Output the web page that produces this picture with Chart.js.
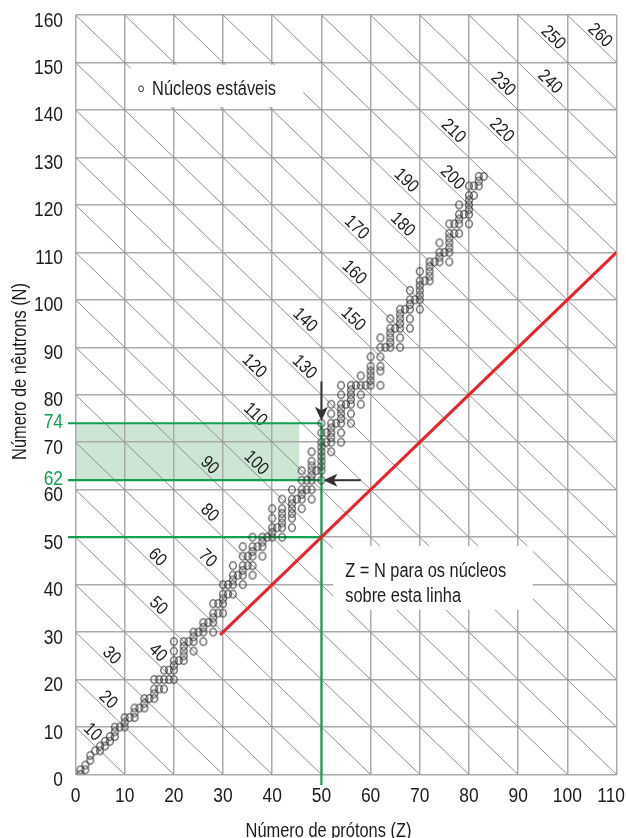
<!DOCTYPE html>
<html>
<head>
<meta charset="utf-8">
<script src="https://cdn.jsdelivr.net/npm/chart.js@4/dist/chart.umd.min.js"></script>
<style>
  html, body { margin: 0; padding: 0; background: #ffffff; }
  canvas { display: block; }
</style>
</head>
<body>
<canvas id="chart" width="626" height="838"></canvas>
<script>
// Axis ticks
const xTicks = [0, 10, 20, 30, 40, 50, 60, 70, 80, 90, 100, 110];
const yTicks = [0, 10, 20, 30, 40, 50, 60, 62, 70, 74, 80, 90, 100, 110, 120, 130, 140, 150, 160];
const highlightedN = [62, 74];

// Stable nuclei: neutron numbers N for each proton number Z (index = Z)
const stableNeutrons = [
  [],
  [0, 1],
  [1, 2],
  [3, 4],
  [5],
  [5, 6],
  [6, 7],
  [7, 8],
  [8, 9, 10],
  [10],
  [10, 11, 12],
  [12],
  [12, 13, 14],
  [14],
  [14, 15, 16],
  [16],
  [16, 17, 18, 20],
  [18, 20],
  [18, 20, 22],
  [20, 22],
  [20, 22, 23, 24, 26, 28],
  [24],
  [24, 25, 26, 27, 28],
  [28],
  [26, 28, 29, 30],
  [30],
  [28, 30, 31, 32],
  [32],
  [30, 32, 33, 34, 36],
  [34, 36],
  [34, 36, 37, 38, 40],
  [38, 40],
  [38, 40, 41, 42, 44],
  [42],
  [40, 42, 43, 44, 46, 48],
  [44, 46],
  [42, 44, 46, 47, 48, 50],
  [48],
  [46, 48, 49, 50],
  [50],
  [50, 51, 52, 54, 56],
  [52],
  [50, 52, 53, 54, 55, 56, 58],
  [],
  [52, 54, 55, 56, 57, 58, 60],
  [58],
  [56, 58, 59, 60, 62, 64],
  [60, 62],
  [58, 60, 62, 63, 64, 65, 66, 68],
  [64],
  [62, 64, 65, 66, 67, 68, 69, 70, 72, 74],
  [70, 72],
  [68, 70, 71, 72, 73, 74, 76, 78],
  [74],
  [70, 72, 74, 75, 76, 77, 78, 80, 82],
  [78],
  [74, 76, 78, 79, 80, 81, 82],
  [82],
  [78, 80, 82, 84],
  [82],
  [82, 83, 84, 85, 86, 88],
  [],
  [82, 85, 86, 88, 90, 92],
  [90],
  [90, 91, 92, 93, 94, 96],
  [94],
  [90, 92, 94, 95, 96, 97, 98],
  [98],
  [94, 96, 98, 99, 100, 102],
  [100],
  [98, 100, 101, 102, 103, 104, 106],
  [104],
  [104, 105, 106, 107, 108],
  [108],
  [108, 109, 110, 112],
  [110],
  [108, 110, 111, 112, 113, 114, 116],
  [114, 116],
  [114, 116, 117, 118, 120],
  [118],
  [116, 118, 119, 120, 121, 122, 124],
  [122, 124],
  [124, 125, 126],
  [126]
];

// Lines of constant mass number A = Z + N
const massLines = [10, 20, 30, 40, 50, 60, 70, 80, 90, 100, 110, 120, 130, 140, 150, 160, 170, 180, 190, 200, 210, 220, 230, 240, 250, 260];
const massLabels = [10, 20, 30, 40, 50, 60, 70, 80, 90, 100, 110, 120, 130, 140, 150, 160, 170, 180, 190, 200, 210, 220, 230, 240, 250, 260];
// Z where each mass label sits on its line
const massLabelZ = [2.3, 5.5, 6.2, 15.6, 15.7, 15.5, 25.7, 26.1, 26.1, 35.6, 35.4, 35.2, 45.4, 45.5, 55.3, 55.5, 56.0, 65.4, 66.1, 75.5, 75.7, 85.5, 85.8, 95.3, 96.0, 105.5];

// Z = N reference line
const zEqualsNStart = 29.4;
const zEqualsNEnd = 110;

// Tin (Z = 50): range of stable neutron numbers, and magic number N = 50
const tinZ = 50;
const tinNRange = [62, 74];
const magicN = 50;
const shadeZEnd = 45.5;

const FONT = '"Liberation Sans", Arial, sans-serif';
const NARROW_TEXT = 0.82;      // horizontal squeeze for words
const NARROW_DIGITS = 0.87;    // horizontal squeeze for numbers
const INK = '#1c1c1c';
const GRID = '#aaaaaa';
const DIAG = '#8e8e8e';
const GREEN = '#11a04e';
const SHADE = '#cde6d4';
const RED = '#e8232a';
const ARROW = '#333333';

const nuclei = [];
stableNeutrons.forEach((list, z) => list.forEach(n => nuclei.push({ x: z, y: n })));

// Open oval marker used for each nucleus
const nucleusMarker = document.createElement('canvas');
nucleusMarker.width = 10;
nucleusMarker.height = 11;
(function () {
  const m = nucleusMarker.getContext('2d');
  m.strokeStyle = '#333333';
  m.lineWidth = 1.1;
  m.beginPath();
  m.ellipse(5, 5.5, 3.3, 3.8, 0, 0, Math.PI * 2);
  m.stroke();
})();

function toPx(chart, z, n) {
  return [chart.scales.x.getPixelForValue(z), chart.scales.y.getPixelForValue(n)];
}

// condensed text: translate, optional rotation, then horizontal squeeze
function text(ctx, str, x, y, align, squeeze, rot, dy) {
  ctx.save();
  ctx.translate(x, y);
  if (rot) ctx.rotate(rot);
  ctx.scale(squeeze, 1);
  ctx.textAlign = align;
  ctx.fillText(str, 0, dy || 0);
  ctx.restore();
}

function drawArrow(ctx, from, to) {
  const [x0, y0] = from, [x1, y1] = to;
  const ang = Math.atan2(y1 - y0, x1 - x0);
  const headLen = 14, halfW = 6.5, notch = 3.5;
  const bx = x1 - Math.cos(ang) * (headLen - notch);
  const by = y1 - Math.sin(ang) * (headLen - notch);
  ctx.save();
  ctx.strokeStyle = ARROW;
  ctx.fillStyle = ARROW;
  ctx.lineWidth = 2;
  ctx.beginPath();
  ctx.moveTo(x0, y0);
  ctx.lineTo(bx, by);
  ctx.stroke();
  ctx.translate(x1, y1);
  ctx.rotate(ang);
  ctx.beginPath();
  ctx.moveTo(0, 0);
  ctx.lineTo(-headLen, -halfW);
  ctx.lineTo(-headLen + notch, 0);
  ctx.lineTo(-headLen, halfW);
  ctx.closePath();
  ctx.fill();
  ctx.restore();
}

const decorations = {
  id: 'decorations',
  beforeDraw(chart) {
    // shaded band of tin's stable neutron numbers
    const ctx = chart.ctx;
    const [xa, ya] = toPx(chart, 0, tinNRange[1]);
    const [xb, yb] = toPx(chart, shadeZEnd, tinNRange[0]);
    ctx.save();
    ctx.fillStyle = SHADE;
    ctx.fillRect(xa, ya, xb - xa, yb - ya);
    ctx.restore();
  },
  beforeDatasetsDraw(chart) {
    const ctx = chart.ctx;
    const xs = chart.scales.x, ys = chart.scales.y;
    const area = chart.chartArea;

    // iso-mass diagonals
    ctx.save();
    ctx.beginPath();
    ctx.rect(area.left, area.top, area.right - area.left, area.bottom - area.top);
    ctx.clip();
    ctx.strokeStyle = DIAG;
    ctx.lineWidth = 1;
    massLines.forEach(a => {
      const zs = Math.max(xs.min, a - ys.max);
      const ze = Math.min(xs.max, a - ys.min);
      if (ze <= zs) return;
      ctx.beginPath();
      ctx.moveTo(xs.getPixelForValue(zs), ys.getPixelForValue(a - zs));
      ctx.lineTo(xs.getPixelForValue(ze), ys.getPixelForValue(a - ze));
      ctx.stroke();
    });
    ctx.restore();

    // mass number labels along the diagonals
    const ang = Math.atan2(ys.getPixelForValue(-1) - ys.getPixelForValue(0),
                           xs.getPixelForValue(1) - xs.getPixelForValue(0));
    ctx.save();
    ctx.font = '18px ' + FONT;
    ctx.fillStyle = INK;
    ctx.textBaseline = 'alphabetic';
    massLabels.forEach((a, i) => {
      const z = massLabelZ[i];
      const [x, y] = toPx(chart, z, a - z);
      text(ctx, String(a), x, y, 'center', NARROW_DIGITS, ang, -3);
    });
    ctx.restore();

    // white panels behind the legend and the annotation
    ctx.save();
    ctx.fillStyle = '#ffffff';
    const [lx0, ly0] = toPx(chart, 11.2, 149.5);
    const [lx1, ly1] = toPx(chart, 46.3, 140.6);
    ctx.fillRect(lx0, ly0, lx1 - lx0, ly1 - ly0);
    const [ax0, ay0] = toPx(chart, 52.4, 48.1);
    const [ax1, ay1] = toPx(chart, 93.0, 34.7);
    ctx.fillRect(ax0, ay0, ax1 - ax0, ay1 - ay0);
    ctx.restore();

    // green guide lines for Z = 50 and N = 50, 62, 74
    const xTin = xs.getPixelForValue(tinZ);
    ctx.save();
    ctx.strokeStyle = GREEN;
    ctx.lineWidth = 2.2;
    [magicN, tinNRange[0], tinNRange[1]].forEach(n => {
      const y = ys.getPixelForValue(n);
      ctx.beginPath();
      ctx.moveTo(area.left - 7.5, y);
      ctx.lineTo(xTin, y);
      ctx.stroke();
    });
    ctx.beginPath();
    ctx.moveTo(xTin, ys.getPixelForValue(tinNRange[1]));
    ctx.lineTo(xTin, area.bottom + 10.5);
    ctx.stroke();
    ctx.restore();

    // arrows pointing to tin's lightest and heaviest stable isotopes
    drawArrow(ctx, toPx(chart, tinZ, 82.8), toPx(chart, tinZ, 74.5));
    drawArrow(ctx, toPx(chart, 58.0, tinNRange[0]), toPx(chart, 50.4, tinNRange[0]));
  },
  afterDatasetsDraw(chart) {
    const ctx = chart.ctx;
    const xs = chart.scales.x, ys = chart.scales.y;
    const area = chart.chartArea;
    ctx.save();
    ctx.font = '20px ' + FONT;
    ctx.fillStyle = INK;
    ctx.textBaseline = 'alphabetic';

    // legend
    const [lx0, ly0] = toPx(chart, 11.2, 149.5);
    ctx.save();
    ctx.strokeStyle = '#333333';
    ctx.lineWidth = 1;
    ctx.beginPath();
    ctx.ellipse(lx0 + 10.5, ly0 + 24, 2.4, 2.9, 0, 0, Math.PI * 2);
    ctx.stroke();
    ctx.restore();
    text(ctx, 'Núcleos estáveis', lx0 + 21.5, ly0 + 30, 'left', NARROW_TEXT);

    // annotation for the Z = N line
    const [ax0, ay0] = toPx(chart, 52.4, 48.1);
    text(ctx, 'Z = N para os núcleos', ax0 + 12, ay0 + 31, 'left', NARROW_TEXT);
    text(ctx, 'sobre esta linha', ax0 + 12, ay0 + 55.7, 'left', NARROW_TEXT);

    // y tick labels
    yTicks.forEach(v => {
      const hi = highlightedN.includes(v);
      const y = ys.getPixelForValue(v) + (hi ? 4.7 : 11.5);
      ctx.fillStyle = hi ? GREEN : INK;
      text(ctx, String(v), area.left - 12.5, y, 'right', NARROW_DIGITS);
    });

    // x tick labels
    ctx.fillStyle = INK;
    xTicks.forEach(v => {
      let x = xs.getPixelForValue(v);
      const w = ctx.measureText(String(v)).width * NARROW_DIGITS;
      x = Math.min(x, chart.width - 1 - w / 2);
      text(ctx, String(v), x, area.bottom + 27.2, 'center', NARROW_DIGITS);
    });

    // axis titles
    text(ctx, 'Número de prótons (Z)', 328.5, 836.5, 'center', NARROW_TEXT);
    text(ctx, 'Número de nêutrons (N)', 26, 371.5, 'center', NARROW_TEXT, -Math.PI / 2);

    ctx.restore();
  }
};

new Chart(document.getElementById('chart'), {
  type: 'scatter',
  data: {
    datasets: [
      {
        type: 'scatter',
        label: 'Núcleos estáveis',
        data: nuclei,
        pointStyle: nucleusMarker,
        pointRadius: 4,
        order: 2
      },
      {
        type: 'line',
        label: 'Z = N',
        data: [{ x: zEqualsNStart, y: zEqualsNStart }, { x: zEqualsNEnd, y: zEqualsNEnd }],
        borderColor: RED,
        borderWidth: 3,
        pointRadius: 0,
        fill: false,
        order: 1
      }
    ]
  },
  options: {
    responsive: false,
    animation: false,
    devicePixelRatio: 1,
    layout: { padding: { top: 15, right: 9.5, bottom: 0, left: 0 } },
    plugins: { legend: { display: false }, tooltip: { enabled: false } },
    scales: {
      x: {
        type: 'linear',
        min: 0,
        max: 110,
        afterBuildTicks: s => { s.ticks = xTicks.map(v => ({ value: v })); },
        ticks: { display: false },
        grid: { color: GRID, lineWidth: 1.5, drawTicks: false },
        border: { display: false },
        afterFit: s => { s.height = 63.5; s.paddingLeft = 0; s.paddingRight = 0; }
      },
      y: {
        type: 'linear',
        min: 0,
        max: 160,
        afterBuildTicks: s => { s.ticks = yTicks.map(v => ({ value: v })); },
        ticks: { display: false },
        grid: {
          color: c => (c.tick && highlightedN.includes(c.tick.value)) ? 'rgba(0,0,0,0)' : GRID,
          lineWidth: 1.5,
          drawTicks: false
        },
        border: { display: false },
        afterFit: s => { s.width = 75.5; s.paddingTop = 0; s.paddingBottom = 0; }
      }
    }
  },
  plugins: [decorations]
});
</script>
</body>
</html>
